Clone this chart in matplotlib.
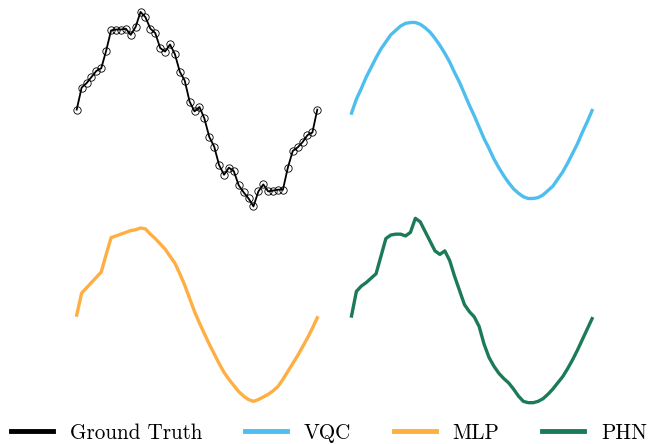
import numpy as np
import matplotlib
matplotlib.use("Agg")
import matplotlib.pyplot as plt
from matplotlib.lines import Line2D

plt.rcParams["font.family"] = ["cmr10", "DejaVu Serif"]
plt.rcParams["mathtext.fontset"] = "cm"
plt.rcParams["axes.formatter.use_mathtext"] = True

# sample index along the curve
steps = np.arange(50)

ground_truth = [0.01, 0.26, 0.31, 0.38, 0.45, 0.48, 0.68, 0.91, 0.92, 0.92,
                0.93, 0.86, 0.95, 1.12, 1.06, 0.93, 0.88, 0.71, 0.67, 0.75,
                0.64, 0.44, 0.34, 0.10, -0.01, 0.04, -0.09, -0.30, -0.41, -0.62,
                -0.73, -0.65, -0.69, -0.85, -0.93, -1.00, -1.09, -0.92, -0.84, -0.92,
                -0.91, -0.90, -0.90, -0.65, -0.46, -0.42, -0.36, -0.28, -0.25, 0.01]

vqc = [-0.03, 0.13, 0.25, 0.38, 0.49, 0.60, 0.70, 0.78, 0.86, 0.91,
       0.96, 0.99, 1.00, 1.00, 0.98, 0.94, 0.89, 0.82, 0.74, 0.65,
       0.55, 0.43, 0.32, 0.19, 0.06, -0.06, -0.19, -0.32, -0.43, -0.55,
       -0.65, -0.74, -0.82, -0.89, -0.94, -0.98, -1.00, -1.00, -0.99, -0.96,
       -0.91, -0.86, -0.78, -0.70, -0.60, -0.49, -0.38, -0.25, -0.13, 0.00]

mlp = [0.01, 0.26, 0.32, 0.38, 0.44, 0.50, 0.70, 0.89, 0.91, 0.93,
       0.95, 0.97, 0.98, 1.00, 0.99, 0.93, 0.88, 0.82, 0.76, 0.68,
       0.60, 0.48, 0.35, 0.20, 0.05, -0.08, -0.20, -0.32, -0.43, -0.54,
       -0.64, -0.72, -0.79, -0.86, -0.91, -0.95, -0.97, -0.95, -0.92, -0.89,
       -0.85, -0.80, -0.72, -0.63, -0.54, -0.45, -0.35, -0.25, -0.14, -0.02]

phn = [0.00, 0.28, 0.34, 0.38, 0.43, 0.48, 0.68, 0.88, 0.92, 0.93,
       0.93, 0.91, 0.95, 1.11, 1.07, 0.96, 0.85, 0.74, 0.70, 0.74,
       0.63, 0.45, 0.29, 0.13, 0.05, -0.01, -0.12, -0.32, -0.47, -0.57,
       -0.65, -0.71, -0.76, -0.83, -0.91, -0.97, -0.985, -0.985, -0.97, -0.94,
       -0.89, -0.83, -0.76, -0.69, -0.60, -0.50, -0.39, -0.27, -0.15, -0.03]

labels = ["Ground Truth", "VQC", "MLP", "PHN"]
colors = ["black", "#4dbeee", "#ffae42", "#1b7b57"]

fig = plt.figure(figsize=(6.58, 4.44), dpi=100)

W, H = 658.0, 444.0
def box(left, top):
    return [left / W, 1 - (top + 211.2) / H, 250.4 / W, 211.2 / H]

ax_gt = fig.add_axes(box(71.8, 4.9))
ax_vqc = fig.add_axes(box(346.6, 4.9))
ax_mlp = fig.add_axes(box(71.8, 210.4))
ax_phn = fig.add_axes(box(346.6, 210.4))

ax_gt.plot(steps, ground_truth, color="black", lw=1.3, marker="o", ms=5.3,
           mfc="none", mec="black", mew=0.6)
ax_vqc.plot(steps, vqc, color=colors[1], lw=2.4)
ax_mlp.plot(steps, mlp, color=colors[2], lw=2.4)
ax_phn.plot(steps, phn, color=colors[3], lw=2.4)

for ax in [ax_gt, ax_vqc, ax_mlp, ax_phn]:
    ax.set_xlim(-1, 50)
    ax.set_ylim(-1.2, 1.2)
    ax.axis("off")

handles = [Line2D([], [], color=c, lw=3.5) for c in colors]
fig.legend(handles, labels, loc="center", bbox_to_anchor=(0.5, 1 - 433 / H),
           ncol=4, frameon=False, fontsize=15.2, handlelength=2.0,
           handletextpad=0.8, columnspacing=2.0)

fig.savefig("out.png", dpi=100)
